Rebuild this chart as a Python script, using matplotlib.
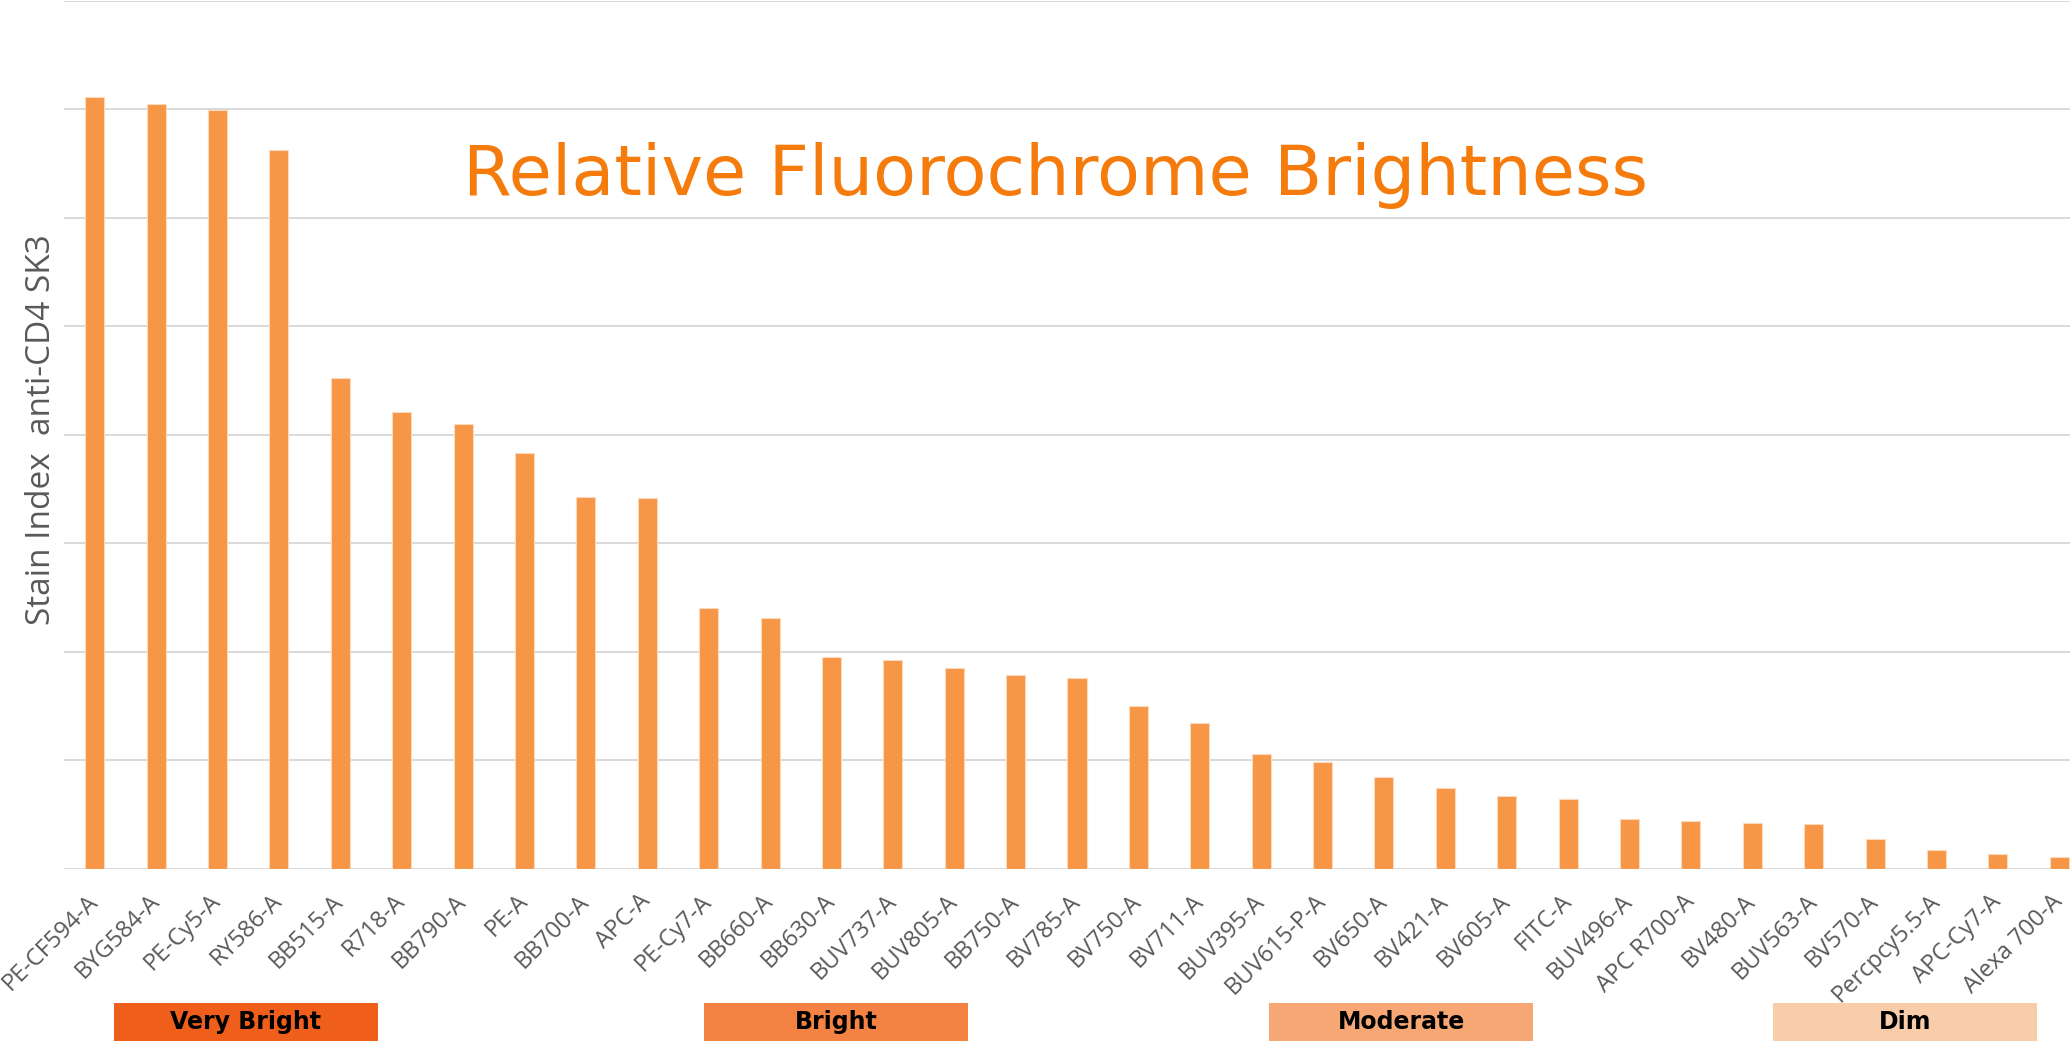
import matplotlib
matplotlib.use("Agg")
import matplotlib.pyplot as plt
import numpy as np
from matplotlib.patches import Rectangle

# ---- data ----
categories = ["PE-CF594-A", "BYG584-A", "PE-Cy5-A", "RY586-A", "BB515-A", "R718-A",
              "BB790-A", "PE-A", "BB700-A", "APC-A", "PE-Cy7-A", "BB660-A", "BB630-A",
              "BUV737-A", "BUV805-A", "BB750-A", "BV785-A", "BV750-A", "BV711-A",
              "BUV395-A", "BUV615-P-A", "BV650-A", "BV421-A", "BV605-A", "FITC-A",
              "BUV496-A", "APC R700-A", "BV480-A", "BUV563-A", "BV570-A",
              "Percpcy5.5-A", "APC-Cy7-A", "Alexa 700-A"]
stain_index = [7.11, 7.05, 6.99, 6.62, 4.52, 4.21, 4.10, 3.83, 3.43, 3.42, 2.40, 2.31,
               1.95, 1.92, 1.85, 1.79, 1.76, 1.50, 1.34, 1.06, 0.985, 0.85, 0.74, 0.67,
               0.643, 0.461, 0.437, 0.419, 0.410, 0.277, 0.173, 0.136, 0.111]
group_labels = ["Very Bright", "Bright", "Moderate", "Dim"]
group_colors = ["#EF5E1B", "#F48242", "#F7A773", "#FACDAA"]

W, H = 2070, 1045
fig = plt.figure(figsize=(W / 100, H / 100), dpi=100)

# axes extends slightly past right edge, like the reference crop
ax_left, ax_right = 64, 2090
ax_top, ax_bottom = 0.6, 868.8
ax = fig.add_axes([ax_left / W, 1 - ax_bottom / H, (ax_right - ax_left) / W, (ax_bottom - ax_top) / H])

x = np.arange(len(categories))
ax.bar(x, stain_index, width=0.31, color="#F79646", edgecolor="#FBD9BC", linewidth=0.8, zorder=3)

ax.set_xlim(-0.5, len(categories) - 0.5)
ax.set_ylim(0, 8)
ax.set_yticks(np.arange(0, 9, 1))
ax.set_yticklabels([])
ax.grid(axis="y", color="#D9D9D9", linewidth=1.4, zorder=0)
ax.set_axisbelow(True)
for s in ax.spines.values():
    s.set_visible(False)
ax.tick_params(axis="both", length=0)
ax.tick_params(axis="x", pad=21)
ax.set_xticks(x)
ax.set_xticklabels(categories, rotation=45, ha="right", va="center",
                   rotation_mode="anchor", fontsize=17, color="#595959",
                   family="Open Sans")

ax.set_ylabel("Stain Index  anti-CD4 SK3", fontsize=24, color="#595959",
              family="Open Sans")
ax.yaxis.set_label_coords(-(64 - 58) / (ax_right - ax_left), 1 - 429 / ax_bottom)

# title
fig.text(463 / W, 1 - 194.7 / H, "Relative Fluorochrome Brightness", fontsize=50.6,
         color="#F47B0C", family="DejaVu Sans", ha="left", va="baseline")

# brightness class boxes
box_lefts = [114, 704, 1269, 1773]
box_w, box_top, box_bot = 264, 1003, 1041
for lab, col, bl in zip(group_labels, group_colors, box_lefts):
    fig.patches.append(Rectangle((bl / W, 1 - box_bot / H), box_w / W, (box_bot - box_top) / H,
                                 transform=fig.transFigure, facecolor=col, edgecolor="none"))
    fig.text((bl + box_w / 2) / W, 1 - (box_top + box_bot) / 2 / H, lab, fontsize=17,
             fontweight="bold", color="black", family="DejaVu Sans", ha="center", va="center")

fig.savefig("out.png", dpi=100, facecolor="white")
